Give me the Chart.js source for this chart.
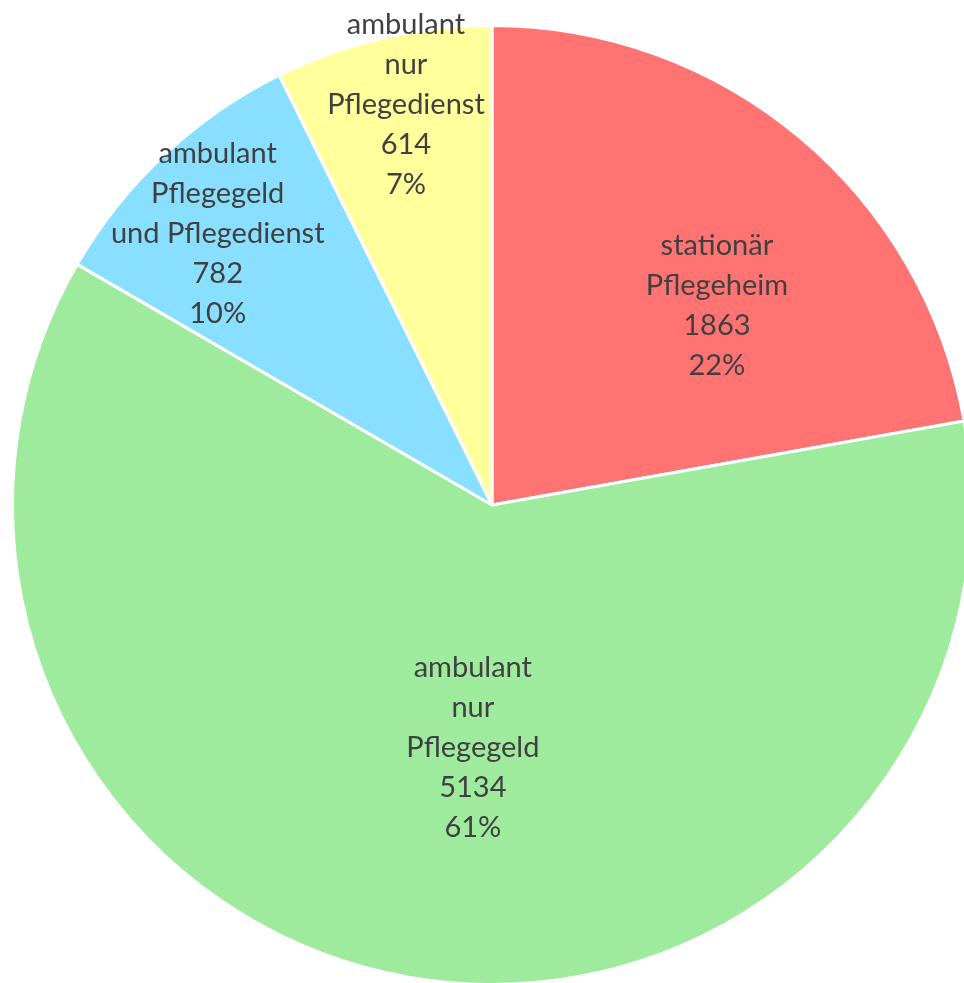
<!DOCTYPE html>
<html>
<head>
<meta charset="utf-8">
<script src="https://cdn.jsdelivr.net/npm/chart.js@4/dist/chart.umd.min.js"></script>
<style>
  html, body { margin: 0; padding: 0; background: #fff; overflow: hidden; width: 964px; height: 983px; }
  #wrap { position: absolute; left: 0; top: 0; width: 984px; height: 986px; }
</style>
</head>
<body>
<div id="wrap"><canvas id="pie"></canvas></div>
<script>
// slices, clockwise from 12 o'clock
const categories = [
  ['stationär', 'Pflegeheim'],
  ['ambulant', 'nur', 'Pflegegeld'],
  ['ambulant', 'Pflegegeld', 'und Pflegedienst'],
  ['ambulant', 'nur', 'Pflegedienst']
];
const values = [1863, 5134, 782, 614];
const percentLabels = ['22%', '61%', '10%', '7%'];
const colors = ['#FF7373', '#9EEB9E', '#89DFFF', '#FFFF9B'];

// where each label sits: share of the slice's angle, share of the radius
const labelAngleShare = [0.606, 0.475, 0.433, 0.54];
const labelRadiusShare = [0.627, 0.508, 0.804, 0.855];

const sliceLabels = {
  id: 'sliceLabels',
  afterDatasetsDraw(chart) {
    const ctx = chart.ctx;
    const arcs = chart.getDatasetMeta(0).data;
    ctx.save();
    ctx.font = '29px Lato, "Open Sans", sans-serif';
    ctx.fillStyle = '#404040';
    ctx.textAlign = 'center';
    ctx.textBaseline = 'middle';
    const lineH = 40;
    arcs.forEach((arc, i) => {
      const p = arc.getProps(['x', 'y', 'startAngle', 'endAngle', 'outerRadius'], true);
      const a = p.startAngle + (p.endAngle - p.startAngle) * labelAngleShare[i];
      const r = p.outerRadius * labelRadiusShare[i];
      const cx = p.x + Math.cos(a) * r;
      const cy = p.y + Math.sin(a) * r;
      const lines = categories[i].concat([String(values[i]), percentLabels[i]]);
      const top = cy - (lines.length - 1) * lineH / 2;
      lines.forEach((t, k) => ctx.fillText(t, cx, top + k * lineH));
    });
    ctx.restore();
  }
};

new Chart(document.getElementById('pie'), {
  type: 'pie',
  data: {
    labels: categories.map(c => c.join(' ')),
    datasets: [{
      data: values,
      backgroundColor: colors,
      borderColor: '#ffffff',
      borderWidth: 3
    }]
  },
  options: {
    responsive: true,
    maintainAspectRatio: false,
    animation: false,
    layout: { padding: { left: 11, top: 24, right: 11, bottom: 0 } },
    plugins: {
      legend: { display: false },
      tooltip: { enabled: false }
    }
  },
  plugins: [sliceLabels]
});
</script>
</body>
</html>
